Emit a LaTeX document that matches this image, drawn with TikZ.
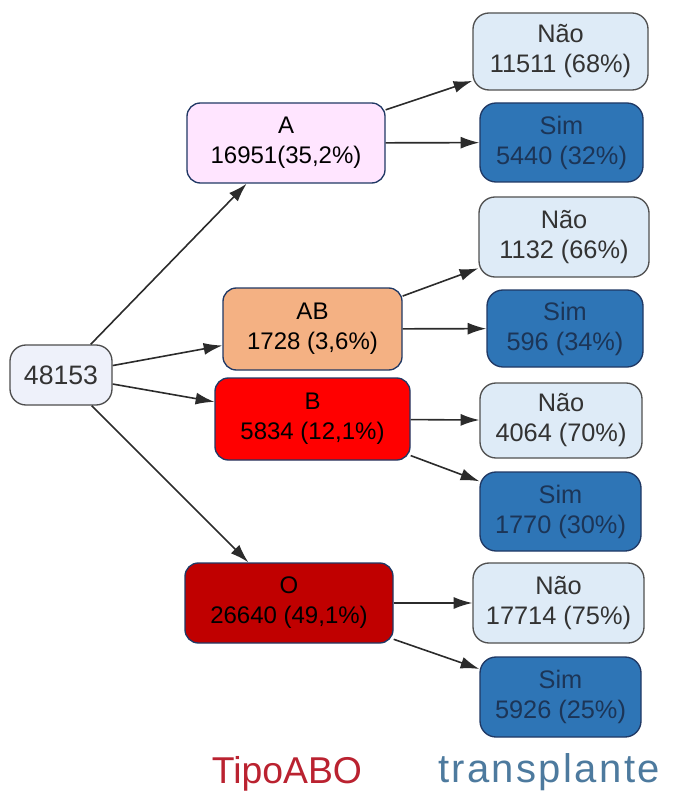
\documentclass[tikz,border=0pt]{standalone}
\usepackage{fontspec}
\setsansfont{Liberation Sans}
\usepackage{tikz}
\usetikzlibrary{arrows.meta,shapes,positioning}
\definecolor{rootfill}{HTML}{EEF1FA}
\definecolor{rootline}{HTML}{4D4D4D}
\definecolor{afill}{HTML}{FFE5FF}
\definecolor{abfill}{HTML}{F4B183}
\definecolor{bfill}{HTML}{FF0000}
\definecolor{ofill}{HTML}{C00000}
\definecolor{midline}{HTML}{203864}
\definecolor{naofill}{HTML}{DEEBF7}
\definecolor{naoline}{HTML}{505050}
\definecolor{simfill}{HTML}{2E75B6}
\definecolor{simline}{HTML}{1F3864}
\definecolor{simtext}{HTML}{1C3557}
\definecolor{edgecol}{HTML}{2B2B2B}
\definecolor{tipocol}{HTML}{BA2230}
\definecolor{transcol}{HTML}{4D7A9E}
\tikzset{
  basic/.style  = {draw, rounded corners=10pt, align=center, inner sep=0pt,
                   line width=1pt, font=\sffamily\fontsize{18}{22.5}\selectfont},
  root/.style   = {basic, rounded corners=12pt, fill=rootfill, draw=rootline, text=black!80,
                   font=\sffamily\fontsize{20}{22.5}\selectfont},
  level 2/.style = {basic, draw=midline, text=black},
  nao/.style    = {basic, rounded corners=12pt, fill=naofill, draw=naoline, text=black!80,
                   font=\sffamily\fontsize{19}{22.5}\selectfont},
  sim/.style    = {basic, rounded corners=12pt, fill=simfill, draw=simline, text=simtext,
                   font=\sffamily\fontsize{19}{22.5}\selectfont},
  legend/.style = {font=\sffamily\fontsize{28}{30}\selectfont}
}

\begin{document}
\begin{tikzpicture}[x=0.75pt,y=-0.75pt,>={Latex[length=14pt,width=9pt]},
  edge/.style={->,draw=edgecol,line width=1.2pt}]
\useasboundingbox (0,0) rectangle (672,798);

% tipo ABO is level 2, transplante leaves are nao / sim

\node[root, minimum width=76.5pt, minimum height=45pt] (c0) at (61,375) {48153};

\node[level 2, fill=afill,  minimum width=148.5pt,  minimum height=60pt]   (c1) at (286,143)   {A\\16951(35,2\%)};
\node[level 2, fill=abfill, minimum width=134.25pt, minimum height=61.5pt] (c2) at (312.5,329) {AB\\1728 (3,6\%)};
\node[level 2, fill=bfill,  minimum width=146.25pt, minimum height=61.5pt] (c3) at (312.5,419) {B\\5834 (12,1\%)};
\node[level 2, fill=ofill,  minimum width=156pt,    minimum height=60pt]   (c4) at (289,603)   {O\\26640 (49,1\%)};

\node[nao, minimum width=131.25pt, minimum height=57.75pt] (c11) at (560.5,51.5)  {Não\\11511 (68\%)};
\node[sim, minimum width=122.25pt, minimum height=59.25pt] (c12) at (561.5,142.5) {Sim\\5440 (32\%)};
\node[nao, minimum width=127.5pt,  minimum height=60pt]    (c21) at (564,237)     {Não\\1132 (66\%)};
\node[sim, minimum width=117pt,    minimum height=57.75pt] (c22) at (565,328.5)   {Sim\\596 (34\%)};
\node[nao, minimum width=121.5pt,  minimum height=56.25pt] (c31) at (561,420.5)   {Não\\4064 (70\%)};
\node[sim, minimum width=120.75pt, minimum height=59.25pt] (c32) at (560.5,511.5) {Sim\\1770 (30\%)};
\node[nao, minimum width=128.25pt, minimum height=60pt]    (c41) at (558.5,603)   {Não\\17714 (75\%)};
\node[sim, minimum width=120.75pt, minimum height=60pt]    (c42) at (560.5,697)   {Sim\\5926 (25\%)};

\node[legend, text=tipocol]  (l1) at (287,774) {TipoABO};
\node[legend, text=transcol, font=\sffamily\fontsize{30}{30}\selectfont]
  (l2) at (549,772) {\addfontfeature{LetterSpace=6}transplante};

\foreach \value in {1,...,4}
  \draw[edge] (c0) -- (c\value);
\foreach \group in {1,...,4}
  \foreach \value in {1,2}
    \draw[edge] (c\group) -- (c\group\value);

\end{tikzpicture}
\end{document}
